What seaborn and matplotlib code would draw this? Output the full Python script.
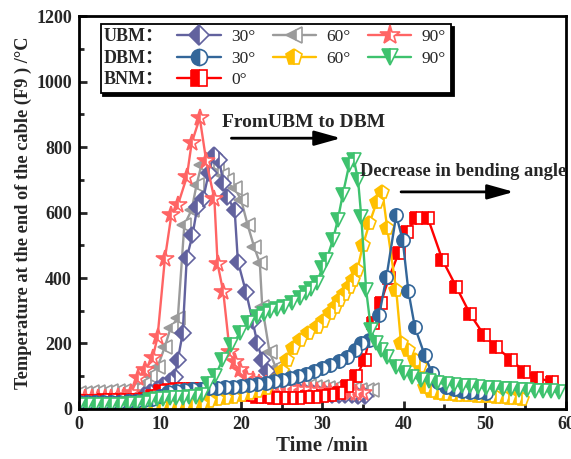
import matplotlib
matplotlib.use("Agg")
import matplotlib.pyplot as plt
import seaborn as sns
from matplotlib.lines import Line2D
from matplotlib.legend_handler import HandlerBase
from matplotlib.text import Text
from matplotlib.ticker import MultipleLocator

# ---------------- data: time (min) and temperature (°C) ----------------
ubm30_t = [0, 0.8, 1.6, 2.4, 3.2, 4.0, 4.8, 5.6, 6.4, 7.2, 8.0, 8.8, 9.6, 10.4, 11.2, 11.8,
           12.2, 12.8, 13.3, 14.0, 14.6, 15.3, 16.0, 16.6, 17.3, 17.8, 18.3, 19.2, 19.6, 20.6,
           21.4, 22.0, 22.6, 23.2, 24.0, 24.8, 25.6, 26.4, 27.2, 28.0, 28.8, 29.6, 30.4, 31.2,
           32.0, 32.8, 33.6, 34.4, 35.2]
ubm30_T = [22, 22, 23, 23, 24, 25, 26, 27, 29, 33, 42, 52, 62, 72, 85, 98,
           150, 232, 462, 530, 617, 640, 720, 775, 760, 690, 648, 607, 450, 357,
           270, 200, 150, 115, 90, 72, 62, 56, 52, 50, 48, 46, 45, 44,
           43, 42, 42, 41, 40]

ubm60_t = [0, 0.8, 1.6, 2.4, 3.2, 4.0, 4.8, 5.6, 6.4, 7.2, 8.0, 8.8, 9.7, 10.6, 11.3, 12.2,
           13.0, 13.9, 14.5, 15.1, 15.9, 16.5, 17.0, 17.7, 18.3, 19.2, 20.0, 20.8, 21.6, 22.3,
           22.6, 23.5, 24.3, 25.1, 25.9, 26.7, 27.5, 28.3, 29.1, 29.9, 30.7, 31.5, 32.3, 33.1,
           33.9, 34.7, 35.5, 36.1]
ubm60_T = [50, 50, 51, 52, 53, 54, 55, 56, 58, 62, 75, 100, 128, 190, 247, 278,
           562, 608, 684, 745, 754, 748, 730, 714, 699, 675, 638, 562, 495, 446,
           311, 174, 125, 98, 85, 78, 74, 70, 68, 66, 65, 63, 62, 61,
           60, 59, 58, 57]

ubm90_t = [0, 0.8, 1.6, 2.4, 3.2, 4.0, 4.8, 5.6, 6.4, 7.3, 8.2, 9.1, 9.7, 10.6, 11.4, 12.2,
           13.3, 13.9, 14.9, 15.7, 16.7, 17.1, 17.8, 18.6, 19.2, 19.8, 20.6, 21.4, 22.2, 23.0,
           23.8, 24.6, 25.4, 26.2, 27.0, 27.8, 28.6, 29.4, 30.2, 31.0, 31.8, 32.6, 33.4, 34.2,
           35.0]
ubm90_T = [32, 32, 33, 33, 34, 35, 37, 40, 48, 95, 119, 156, 220, 458, 592, 623,
           708, 812, 889, 757, 641, 443, 357, 174, 143, 119, 98, 88, 80, 75,
           70, 66, 63, 61, 59, 57, 56, 55, 54, 53, 52, 51, 50, 50,
           49]

dbm30_t = [0, 1, 2, 3, 4, 5, 6, 7, 8, 9, 10, 11, 12, 13, 14, 15, 16, 17, 18, 19, 20, 21, 22,
           23, 24, 25, 26, 27, 28, 29, 30, 31, 32, 33, 34, 34.8, 35.8, 37.0, 37.9, 39.1, 39.9,
           40.6, 41.4, 42.6, 43.5, 44.3, 45.2, 46.2, 47.2, 48.2, 49.2, 50.2]
dbm30_T = [20, 20, 21, 21, 22, 22, 23, 24, 26, 30, 40, 52, 56, 58, 60, 62, 63, 64, 66, 68, 70, 72, 75,
           79, 84, 90, 96, 102, 108, 116, 124, 134, 145, 159, 180, 201, 211, 287, 403, 592, 516,
           360, 250, 165, 110, 82, 68, 60, 56, 53, 51, 50]

dbm60_t = [0, 1, 2, 3, 4, 5, 6, 7, 8, 9, 10, 11, 12, 13, 14, 15, 16, 17, 18, 19, 20, 21, 22,
           23, 24, 25, 25.6, 26.4, 27.2, 28.2, 29.3, 30.1, 30.9, 31.5, 32.1, 32.7, 33.3, 33.8,
           34.3, 35.0, 35.8, 36.7, 37.4, 38.0, 39.1, 39.7, 40.6, 41.4, 42.0, 42.6, 43.4, 44.2,
           45.0, 45.8, 46.6, 47.4, 48.2, 49.0, 49.8, 50.6, 51.4, 52.2, 53.0, 53.8, 54.6]
dbm60_T = [10, 10, 10, 11, 11, 11, 12, 12, 12, 13, 13, 14, 14, 15, 15, 16, 25, 30, 34, 38, 42, 48, 55,
           65, 85, 115, 150, 185, 211, 232, 250, 270, 293, 312, 333, 352, 373, 395,
           424, 500, 567, 632, 663, 552, 363, 200, 180, 150, 130, 67, 55, 50,
           47, 45, 44, 43, 42, 41, 40, 39, 38, 36, 34, 32, 30]

dbm90_t = [0, 1, 2, 3, 4, 5, 6, 7, 8, 8.8, 9.6, 10.4, 11.2, 12.0, 12.8, 13.6, 14.4, 15.2, 15.9,
           16.8, 17.7, 18.8, 19.9, 20.8, 22.0, 22.8, 23.6, 24.4, 25.3, 26.3, 27.2, 28.0, 28.6,
           29.3, 30.0, 30.5, 31.3, 31.9, 32.5, 33.3, 33.9, 34.4, 34.8, 35.4, 36.0, 36.6, 37.2,
           38.0, 39.1, 40.1, 41.1, 42.1, 43.1, 44.1, 45.2, 46.2, 47.2, 48.2, 49.2, 50.2, 51.2,
           52.2, 53.2, 54.2, 55.2, 56.2, 57.2, 58.2, 59.2]
dbm90_T = [12, 12, 12, 13, 13, 13, 14, 14, 18, 28, 30, 31, 32, 33, 34, 36, 38, 42, 75,
           100, 150, 195, 232, 263, 281, 290, 298, 305, 311, 325, 340, 355, 365,
           385, 430, 455, 516, 577, 653, 745, 760, 700, 586, 363, 241, 200, 180,
           159, 128, 110, 98, 90, 84, 80, 77, 74, 71, 69, 67, 65, 63,
           61, 60, 58, 57, 56, 55, 54, 52]

bnm0_t = [0, 1, 2, 3, 4, 5, 6, 7, 8, 9, 10, 11, 12, 13, 14, 15, 16, 17, 18, 19, 20, 21, 22, 23,
          24, 25, 26, 27, 28, 29, 30, 31, 32, 33, 34.2, 35.2, 36.2, 37.2, 38.2, 39.4, 40.4, 41.5,
          43.0, 44.8, 46.5, 48.2, 49.9, 51.4, 53.3, 54.9, 56.5, 58.3]
bnm0_T = [25, 25, 25, 26, 26, 27, 27, 28, 30, 40, 55, 58, 60, 60, 61, 61, 62, 62, 60, 55, 48, 42, 38, 36,
          35, 35, 35, 35, 36, 37, 39, 42, 50, 70, 100, 150, 263, 324, 400, 476, 540, 583,
          583, 455, 373, 290, 226, 189, 150, 113, 95, 82]

row_titles = ["UBM：", "DBM：", "BNM："]
angle_labels = {"ubm30": "30°", "ubm60": "60°", "ubm90": "90°",
                "dbm30": "30°", "dbm60": "60°", "dbm90": "90°", "bnm0": "0°"}

# ---------------- style ----------------
sns.set_style("ticks")
SERIF = ["Liberation Serif", "Noto Sans CJK SC", "DejaVu Sans"]
plt.rcParams["font.family"] = SERIF
plt.rcParams["font.weight"] = "bold"
plt.rcParams["axes.labelweight"] = "bold"

styles = {
    "ubm60": dict(t=ubm60_t, T=ubm60_T, color="#9B9B9B", marker="<", ms=10),
    "ubm30": dict(t=ubm30_t, T=ubm30_T, color="#62629E", marker="D", ms=8.5),
    "ubm90": dict(t=ubm90_t, T=ubm90_T, color="#FF6464", marker="*", ms=13),
    "bnm0": dict(t=bnm0_t, T=bnm0_T, color="#FF0000", marker="s", ms=9),
    "dbm60": dict(t=dbm60_t, T=dbm60_T, color="#FFC000", marker="p", ms=10),
    "dbm30": dict(t=dbm30_t, T=dbm30_T, color="#336699", marker="o", ms=9.5),
    "dbm90": dict(t=dbm90_t, T=dbm90_T, color="#3EC26E", marker="v", ms=10),
}

fig = plt.figure(figsize=(5.71, 4.59), dpi=100)
ax = fig.add_axes([0.138, 0.109, 0.853, 0.856])

handles = {}
for key, s in styles.items():
    sns.lineplot(x=s["t"], y=s["T"], ax=ax, estimator=None, sort=False, legend=False,
                 color=s["color"], linewidth=1.7, marker=s["marker"], markersize=s["ms"],
                 fillstyle="left", markerfacecolor=s["color"], markerfacecoloralt="white",
                 markeredgecolor=s["color"], markeredgewidth=1.2)
    handles[key] = Line2D([], [], color=s["color"], linewidth=1.7, marker=s["marker"],
                          markersize=s["ms"] + 2, fillstyle="left", markerfacecolor=s["color"],
                          markerfacecoloralt="white", markeredgecolor=s["color"],
                          markeredgewidth=1.2)

# ---------------- axes ----------------
ax.set_xlim(0, 60)
ax.set_ylim(0, 1200)
ax.xaxis.set_major_locator(MultipleLocator(10))
ax.xaxis.set_minor_locator(MultipleLocator(5))
ax.yaxis.set_major_locator(MultipleLocator(200))
ax.yaxis.set_minor_locator(MultipleLocator(100))
ax.tick_params(which="both", direction="in", width=2, labelsize=13, pad=5)
ax.tick_params(which="major", length=6)
ax.tick_params(which="minor", length=3.5)
for sp in ax.spines.values():
    sp.set_linewidth(2)
    sp.set_color("black")

ax.set_xlabel("Time /min", fontsize=15, fontweight="bold", labelpad=2)
ax.set_ylabel("Temperature at the end of the cable (F9 ) /°C", fontsize=13.2,
              fontweight="bold", labelpad=3)

# ---------------- annotations ----------------
ax.text(17.6, 876, "FromUBM to DBM", fontsize=14, fontweight="bold", va="center", ha="left")
ax.annotate("", xy=(32.3, 827), xytext=(18.8, 827),
            arrowprops=dict(arrowstyle="-|>,head_length=1.0,head_width=0.28",
                            color="black", lw=2, mutation_scale=16, shrinkA=0, shrinkB=0))
ax.text(34.6, 724, "Decrease in bending angle", fontsize=13.3, fontweight="bold",
        va="center", ha="left")
ax.annotate("", xy=(53.6, 663), xytext=(39.7, 663),
            arrowprops=dict(arrowstyle="-|>,head_length=1.0,head_width=0.28",
                            color="black", lw=2, mutation_scale=16, shrinkA=0, shrinkB=0))


# ---------------- legend with row titles ----------------
class RowTitle:
    def __init__(self, text):
        self.text = text


class RowTitleHandler(HandlerBase):
    def legend_artist(self, legend, orig_handle, fontsize, handlebox):
        txt = Text(-2, 0, orig_handle.text, va="baseline", ha="left", fontsize=13,
                   fontweight="bold", family=SERIF)
        handlebox.add_artist(txt)
        return txt


blank = Line2D([], [], linestyle="none", marker="none")
leg_handles = [RowTitle(r) for r in row_titles] + [
    handles["ubm30"], handles["dbm30"], handles["bnm0"],
    handles["ubm60"], handles["dbm60"], blank,
    handles["ubm90"], handles["dbm90"], blank,
]
leg_labels = ["", "", "",
              angle_labels["ubm30"], angle_labels["dbm30"], angle_labels["bnm0"],
              angle_labels["ubm60"], angle_labels["dbm60"], "",
              angle_labels["ubm90"], angle_labels["dbm90"], ""]
leg = ax.legend(leg_handles, leg_labels, handler_map={RowTitle: RowTitleHandler()},
                ncol=4, loc="upper left", bbox_to_anchor=(0.045, 0.98), borderaxespad=0,
                prop=dict(family=SERIF, size=12.5, weight="normal"),
                handlelength=2.5, handletextpad=0.6, columnspacing=1.0,
                labelspacing=0.3, borderpad=0.3, fancybox=False, framealpha=1,
                edgecolor="black",
                shadow=dict(facecolor="black", edgecolor="black", alpha=1))
leg.get_frame().set_linewidth(1.3)

fig.savefig("out.png", dpi=100, facecolor="white")
